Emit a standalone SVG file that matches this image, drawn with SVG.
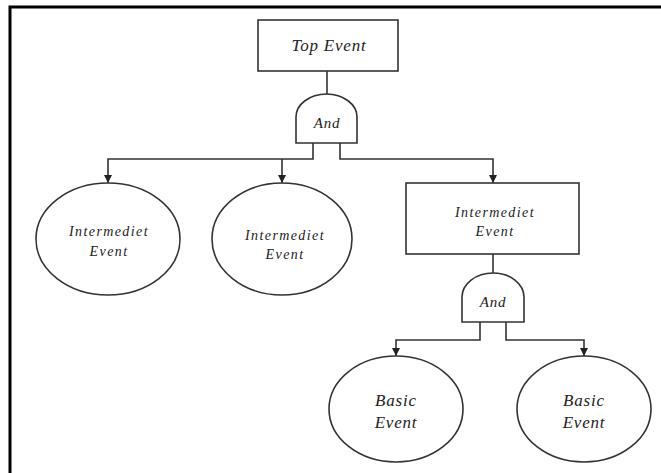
<svg xmlns="http://www.w3.org/2000/svg" width="661" height="473" viewBox="0 0 661 473">
<style>
.shape{fill:#fff;stroke:#333;stroke-width:1.6}
.wire{fill:none;stroke:#333;stroke-width:1.6}
.t{font-family:"Liberation Serif","Times New Roman",serif;font-style:italic;fill:#222;text-anchor:middle}
.mid{font-size:14px;letter-spacing:1.4px}
.big{font-size:17px;letter-spacing:0.8px}
.gate{font-size:15px;letter-spacing:0.8px}
</style>
<defs>
<marker id="ah" markerWidth="8" markerHeight="8" refX="8" refY="4" orient="auto" markerUnits="userSpaceOnUse">
<path d="M0,0 L8,4 L0,8 Z" fill="#222"/>
</marker>
</defs>
<rect width="661" height="473" fill="#fff"/>
<path d="M10,473 V7 H661" fill="none" stroke="#000" stroke-width="3"/>
<g id="connectors">
<path class="wire" d="M327,71 V94"/>
<path class="wire" d="M313,143 V159 H108 V183" marker-end="url(#ah)"/>
<path class="wire" d="M282,159 V183" marker-end="url(#ah)"/>
<path class="wire" d="M340,143 V159 H493 V183" marker-end="url(#ah)"/>
<path class="wire" d="M493,254 V273"/>
<path class="wire" d="M480,322 V340 H396 V356" marker-end="url(#ah)"/>
<path class="wire" d="M506,322 V340 H584 V356" marker-end="url(#ah)"/>
</g>
<g id="top-event">
<rect class="shape" x="258" y="20" width="140" height="51"/>
<text class="t big" x="329" y="51">Top Event</text>
</g>
<g id="and-gate-1">
<path class="shape" d="M296,143 V117 A30.5 23 0 0 1 357,117 V143 Z"/>
<text class="t gate" x="327" y="128">And</text>
</g>
<g id="intermediate-1">
<ellipse class="shape" cx="108" cy="239" rx="72" ry="56"/>
<text class="t mid" x="109" y="236">Intermediet</text>
<text class="t mid" x="109" y="256">Event</text>
</g>
<g id="intermediate-2">
<ellipse class="shape" cx="282" cy="239" rx="70" ry="56"/>
<text class="t mid" x="285" y="240">Intermediet</text>
<text class="t mid" x="285" y="259">Event</text>
</g>
<g id="intermediate-3">
<rect class="shape" x="406" y="183" width="173" height="71"/>
<text class="t mid" x="495" y="217">Intermediet</text>
<text class="t mid" x="495" y="236">Event</text>
</g>
<g id="and-gate-2">
<path class="shape" d="M462,322 V297 A31 24 0 0 1 524,297 V322 Z"/>
<text class="t gate" x="493" y="307">And</text>
</g>
<g id="basic-1">
<ellipse class="shape" cx="396" cy="409" rx="67" ry="53"/>
<text class="t big" x="396" y="406">Basic</text>
<text class="t big" x="396" y="428">Event</text>
</g>
<g id="basic-2">
<ellipse class="shape" cx="584" cy="409" rx="67" ry="53"/>
<text class="t big" x="584" y="406">Basic</text>
<text class="t big" x="584" y="428">Event</text>
</g>
</svg>
